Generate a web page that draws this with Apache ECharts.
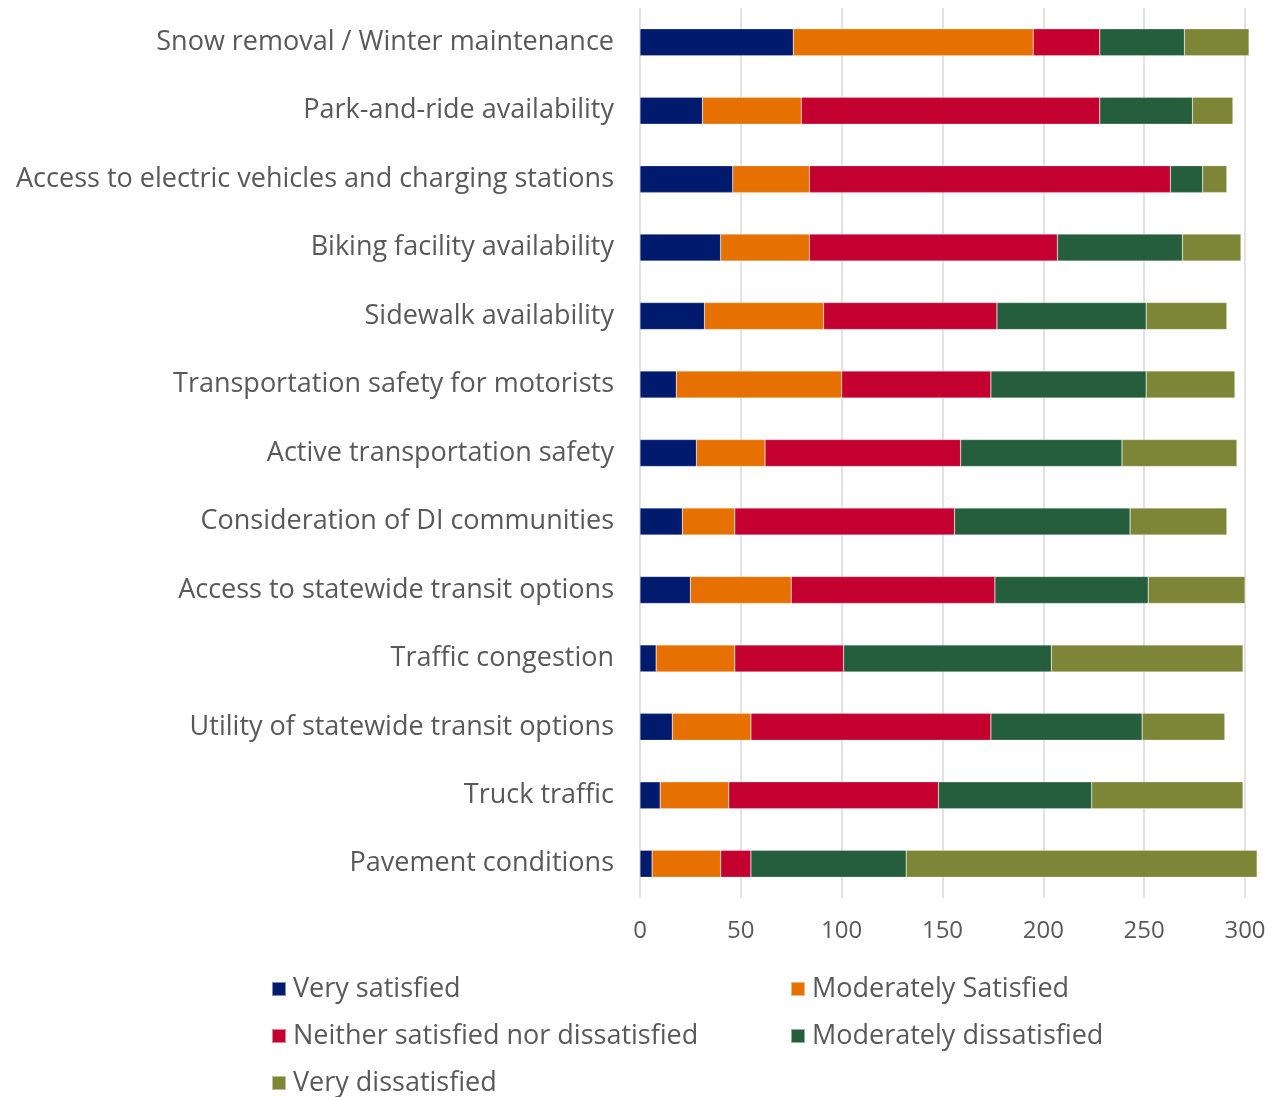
<!DOCTYPE html>
<html>
<head>
<meta charset="utf-8">
<script src="https://cdn.jsdelivr.net/npm/echarts@6/dist/echarts.min.js"></script>
<style>html,body{margin:0;padding:0;background:#fff;}#c{width:1276px;height:1097px;}</style>
</head>
<body>
<div id="c"></div>
<script>
const categories = [
  "Snow removal / Winter maintenance",
  "Park-and-ride availability",
  "Access to electric vehicles and charging stations",
  "Biking facility availability",
  "Sidewalk availability",
  "Transportation safety for motorists",
  "Active transportation safety",
  "Consideration of DI communities",
  "Access to statewide transit options",
  "Traffic congestion",
  "Utility of statewide transit options",
  "Truck traffic",
  "Pavement conditions"
];
const seriesNames = ["Very satisfied", "Moderately Satisfied", "Neither satisfied nor dissatisfied", "Moderately dissatisfied", "Very dissatisfied"];
const verySatisfied        = [76, 31, 46, 40, 32, 18, 28, 21, 25, 8, 16, 10, 6];
const moderatelySatisfied  = [119, 49, 38, 44, 59, 82, 34, 26, 50, 39, 39, 34, 34];
const neither              = [33, 148, 179, 123, 86, 74, 97, 109, 101, 54, 119, 104, 15];
const moderatelyDissatisfied = [42, 46, 16, 62, 74, 77, 80, 87, 76, 103, 75, 76, 77];
const veryDissatisfied     = [32, 20, 12, 29, 40, 44, 57, 48, 48, 95, 41, 75, 174];
const xTicks = { min: 0, max: 300, interval: 50 };

const colors = ["#001a6e", "#e67000", "#c40031", "#245e3c", "#7c8636"];
const values = [verySatisfied, moderatelySatisfied, neither, moderatelyDissatisfied, veryDissatisfied];
const FONT = "Open Sans";
const TXT = "#595959";
const legendPos = [[271, 974], [790, 974], [271, 1021], [790, 1021], [271, 1068]];

const chart = echarts.init(document.getElementById('c'), null, {renderer: 'canvas'});
chart.setOption({
  animation: false,
  color: colors,
  grid: { left: 640, right: 31, top: 8, bottom: 199, containLabel: false },
  xAxis: {
    type: 'value', min: xTicks.min, max: xTicks.max, interval: xTicks.interval,
    axisLine: { show: false }, axisTick: { show: false },
    splitLine: { show: true, lineStyle: { color: '#d9d9d9', width: 1.5 } },
    axisLabel: { color: TXT, fontFamily: FONT, fontSize: 24, margin: 21 }
  },
  yAxis: {
    type: 'category', data: categories, inverse: true,
    axisLine: { show: false }, axisTick: { show: false },
    axisLabel: { color: TXT, fontFamily: FONT, fontSize: 27, margin: 26, padding: [3, 0, 0, 0] }
  },
  legend: seriesNames.map((n, i) => ({
    left: legendPos[i][0], top: legendPos[i][1], icon: 'rect', itemWidth: 14, itemHeight: 14,
    padding: 0, data: [n],
    textStyle: { color: TXT, fontFamily: FONT, fontSize: 27, lineHeight: 30, padding: [0, 0, 0, 2] }
  })),
  series: seriesNames.map((n, i) => ({
    name: n, type: 'bar', stack: 'total', data: values[i], barWidth: 27, clip: false,
    itemStyle: { color: colors[i], borderColor: 'rgba(255,255,255,0.5)', borderWidth: 0.5 }
  }))
});
</script>
</body>
</html>
